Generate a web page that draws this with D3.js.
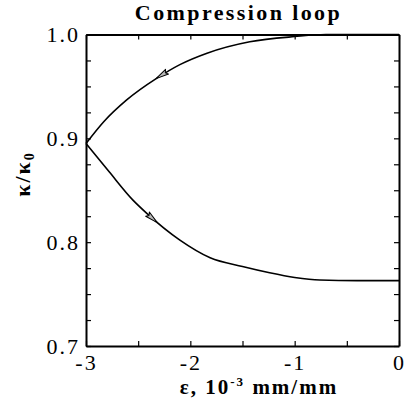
<!DOCTYPE html>
<html>
<head>
<meta charset="utf-8">
<script src="https://cdn.jsdelivr.net/npm/d3@7"></script>
<style>
  html, body { margin: 0; padding: 0; background: #fff; }
  svg { display: block; }
</style>
</head>
<body>
<svg id="chart" width="406" height="400"></svg>
<script>
// Stiffness ratio over one compression loop (strain in 10^-3 mm/mm)
const upperStrain = [-3, -2.83, -2.61, -2.32, -2.10, -1.84, -1.43, -1.0, -0.7, -0.4, 0];
const upperRatio  = [0.895, 0.916, 0.937, 0.958, 0.971, 0.982, 0.993, 0.998, 1.0, 1.0, 1.0];

const lowerStrain = [-3, -2.78, -2.55, -2.42, -2.10, -1.81, -1.50, -1.24, -1.0, -0.76, -0.4, 0];
const lowerRatio  = [0.895, 0.868, 0.8405, 0.828, 0.802, 0.785, 0.7765, 0.7705, 0.766, 0.7635, 0.763, 0.763];

// Direction arrows: strain position on each branch
const upperArrowStrain = -2.28;
const lowerArrowStrain = -2.36;

const strainTicks  = [-3, -2.5, -2, -1.5, -1, -0.5, 0];
const strainLabels = [-3, -2, -1, 0];
const ratioTicks   = [0.7, 0.725, 0.75, 0.775, 0.8, 0.825, 0.85, 0.875, 0.9, 0.925, 0.95, 0.975, 1.0];
const ratioLabels  = [0.7, 0.8, 0.9, 1.0];

const serif = '"Liberation Serif", "Times New Roman", Times, "DejaVu Serif", serif';
const plotLeft = 86, plotRight = 399, plotTop = 34.5, plotBottom = 346;

const svg = d3.select("#chart");
const x = d3.scaleLinear().domain([-3, 0]).range([plotLeft, plotRight]);
const y = d3.scaleLinear().domain([0.7, 1.0]).range([plotBottom, plotTop]);

const isLabel = (list, d) => list.some(v => Math.abs(v - d) < 1e-9);

// Axes with inward ticks on all four sides
const gBottom = svg.append("g").attr("transform", `translate(0,${plotBottom})`)
  .call(d3.axisBottom(x).tickValues(strainTicks).tickSize(-5).tickSizeOuter(0).tickPadding(8)
    .tickFormat(d => isLabel(strainLabels, d) ? String(d) : ""));
const gTop = svg.append("g").attr("transform", `translate(0,${plotTop})`)
  .call(d3.axisTop(x).tickValues(strainTicks).tickSize(-5).tickSizeOuter(0).tickFormat(""));
const gLeft = svg.append("g").attr("transform", `translate(${plotLeft},0)`)
  .call(d3.axisLeft(y).tickValues(ratioTicks).tickSize(-5).tickSizeOuter(0).tickPadding(6)
    .tickFormat(d => isLabel(ratioLabels, d) ? d3.format(".1f")(d) : ""));
const gRight = svg.append("g").attr("transform", `translate(${plotRight},0)`)
  .call(d3.axisRight(y).tickValues(ratioTicks).tickSize(-5).tickSizeOuter(0).tickFormat(""));

[gBottom, gTop, gLeft, gRight].forEach(g => {
  g.attr("font-family", null).attr("font-size", null);
  g.select(".domain").attr("stroke", "#000").attr("stroke-width", 2);
  g.selectAll(".tick line").attr("stroke", "#000").attr("stroke-width", 1.2);
  g.selectAll(".tick text")
    .style("font-family", serif)
    .style("font-size", "22px")
    .style("letter-spacing", "2px")
    .attr("fill", "#000");
});

// Curves
const line = d3.line().x(d => x(d[0])).y(d => y(d[1])).curve(d3.curveMonotoneX);
const upper = upperStrain.map((s, i) => [s, upperRatio[i]]);
const lower = lowerStrain.map((s, i) => [s, lowerRatio[i]]);

const upperPath = svg.append("path").datum(upper).attr("d", line)
  .attr("fill", "none").attr("stroke", "#000").attr("stroke-width", 1.6);
const lowerPath = svg.append("path").datum(lower).attr("d", line)
  .attr("fill", "none").attr("stroke", "#000").attr("stroke-width", 1.6);

// Find point on a path at a given pixel x, plus the local tangent angle
function pointAtX(node, px) {
  const total = node.getTotalLength();
  let lo = 0, hi = total;
  for (let i = 0; i < 40; i++) {
    const mid = (lo + hi) / 2;
    if (node.getPointAtLength(mid).x < px) lo = mid; else hi = mid;
  }
  const p = node.getPointAtLength(lo);
  const a = node.getPointAtLength(Math.max(0, lo - 2));
  const b = node.getPointAtLength(Math.min(total, lo + 2));
  return { x: p.x, y: p.y, angle: Math.atan2(b.y - a.y, b.x - a.x) * 180 / Math.PI };
}

function arrow(node, strain, reverse) {
  const p = pointAtX(node, x(strain));
  const ang = p.angle + (reverse ? 180 : 0);
  svg.append("path")
    .attr("d", "M6,0 L-7,-2.8 L-5,0 L-7,2.8 Z")
    .attr("transform", `translate(${p.x},${p.y}) rotate(${ang})`)
    .attr("fill", "#b8b8b8").attr("stroke", "#000").attr("stroke-width", 1)
    .attr("stroke-linejoin", "round");
}
arrow(upperPath.node(), upperArrowStrain, true);
arrow(lowerPath.node(), lowerArrowStrain, false);

// Title
svg.append("text")
  .attr("x", (plotLeft + plotRight) / 2 - 4).attr("y", 20)
  .attr("text-anchor", "middle")
  .style("font-family", serif).style("font-size", "22px").style("font-weight", "bold")
  .style("letter-spacing", "2.4px")
  .text("Compression loop");

// X axis title
const xt = svg.append("text")
  .attr("x", 259).attr("y", 394)
  .attr("text-anchor", "middle")
  .style("font-family", serif).style("font-size", "21px").style("font-weight", "bold")
  .style("letter-spacing", "2px");
xt.append("tspan").text("ε, 10");
xt.append("tspan").style("font-size", "13px").attr("dy", -8).text("-3");
xt.append("tspan").attr("dy", 8).text(" mm/mm");

// Y axis title
const yt = svg.append("text")
  .attr("transform", "translate(30,174) rotate(-90)")
  .attr("text-anchor", "middle")
  .style("font-family", serif).style("font-size", "22px").style("font-weight", "bold")
  .style("letter-spacing", "2px");
yt.append("tspan").text("κ/κ");
yt.append("tspan").style("font-size", "14px").attr("dy", 4).text("0");
</script>
</body>
</html>
